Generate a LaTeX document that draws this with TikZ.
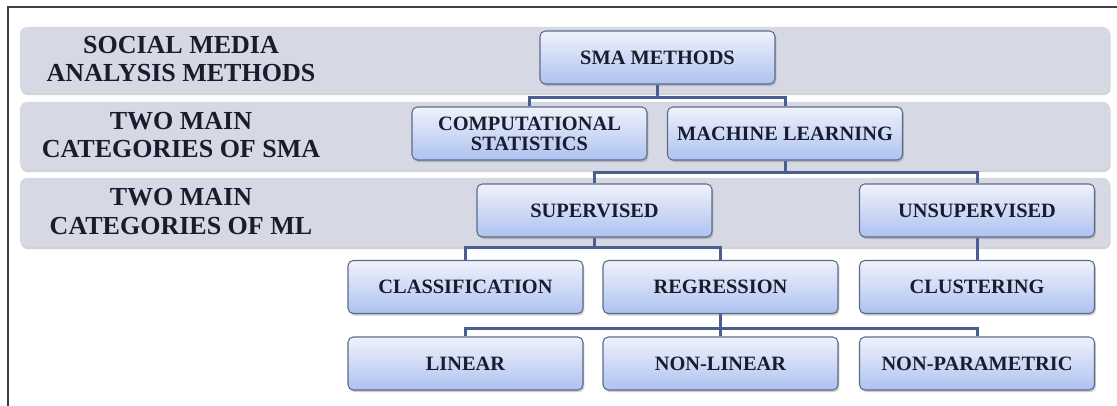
\documentclass[tikz,border=0pt]{standalone}
\usepackage{fontspec}
\setmainfont{Liberation Serif}
\usetikzlibrary{shadows}

\definecolor{bandgray}{HTML}{D6D9E4}
\definecolor{boxtop}{HTML}{F0F2FB}
\definecolor{boxbot}{HTML}{ADC2F0}
\definecolor{boxline}{HTML}{5C6A88}
\definecolor{linkblue}{HTML}{4B5E91}
\definecolor{inkblue}{HTML}{181D2E}

\tikzset{
  band/.style={rounded corners=4pt, fill=bandgray,
    drop shadow={shadow xshift=0.4pt, shadow yshift=-1.2pt, opacity=0.35}},
  lvl/.style={draw=boxline, line width=0.6pt, rounded corners=3pt,
    top color=boxtop, bottom color=boxbot,
    minimum width=4.7cm, minimum height=1.06cm, inner sep=1pt,
    text=inkblue, align=center,
    font=\fontsize{11.6}{11.5}\selectfont\bfseries,
    drop shadow={shadow xshift=0.8pt, shadow yshift=-1.2pt, opacity=0.4}},
  lbl/.style={text=inkblue, align=center,
    font=\fontsize{14.8}{16}\selectfont\bfseries},
  link/.style={draw=linkblue, line width=1.7pt}
}

\begin{document}
\begin{tikzpicture}
  \useasboundingbox (0,0) rectangle (22.34,8.12);
  % frame
  \draw[line width=1.6pt, color=black!75] (0.16,0) -- (0.16,7.98) -- (22.34,7.98);

  % grey bands with their headings
  \fill[band] (0.4,6.26) rectangle (22.2,7.58);
  \fill[band] (0.4,4.72) rectangle (22.2,6.08);
  \fill[band] (0.4,3.18) rectangle (22.2,4.56);
  \node[lbl] (h1) at (3.62,6.94) {SOCIAL MEDIA\\ANALYSIS METHODS};
  \node[lbl] (h2) at (3.62,5.42) {TWO MAIN\\CATEGORIES OF SMA};
  \node[lbl] (h3) at (3.62,3.89) {TWO MAIN\\CATEGORIES OF ML};

  % tree
  \node[lvl] (sma) at (13.15,6.97) {SMA METHODS};
  \node[lvl] (comp) at (10.59,5.45) {COMPUTATIONAL\\STATISTICS};
  \node[lvl] (ml) at (15.70,5.45) {MACHINE LEARNING};
  \node[lvl] (sup) at (11.89,3.91) {SUPERVISED};
  \node[lvl] (unsup) at (19.54,3.91) {UNSUPERVISED};
  \node[lvl] (cls) at (9.31,2.38) {CLASSIFICATION};
  \node[lvl] (reg) at (14.41,2.38) {REGRESSION};
  \node[lvl] (clu) at (19.54,2.38) {CLUSTERING};
  \node[lvl] (lin) at (9.31,0.85) {LINEAR};
  \node[lvl] (nonlin) at (14.41,0.85) {NON-LINEAR};
  \node[lvl] (nonpar) at (19.54,0.85) {NON-PARAMETRIC};

  \draw[link] (sma.south) -- ++(0,-0.26) coordinate (j1);
  \draw[link] (comp.north) |- (j1) -| (ml.north);
  \draw[link] (ml.south) -- ++(0,-0.24) coordinate (j2);
  \draw[link] (sup.north) |- (j2) -| (unsup.north);
  \draw[link] (sup.south) -- ++(0,-0.2) coordinate (j3);
  \draw[link] (cls.north) |- (j3) -| (reg.north);
  \draw[link] (unsup.south) -- (clu.north);
  \draw[link] (reg.south) -- ++(0,-0.28) coordinate (j4) -- (nonlin.north);
  \draw[link] (lin.north) |- (j4) -| (nonpar.north);
\end{tikzpicture}
\end{document}
